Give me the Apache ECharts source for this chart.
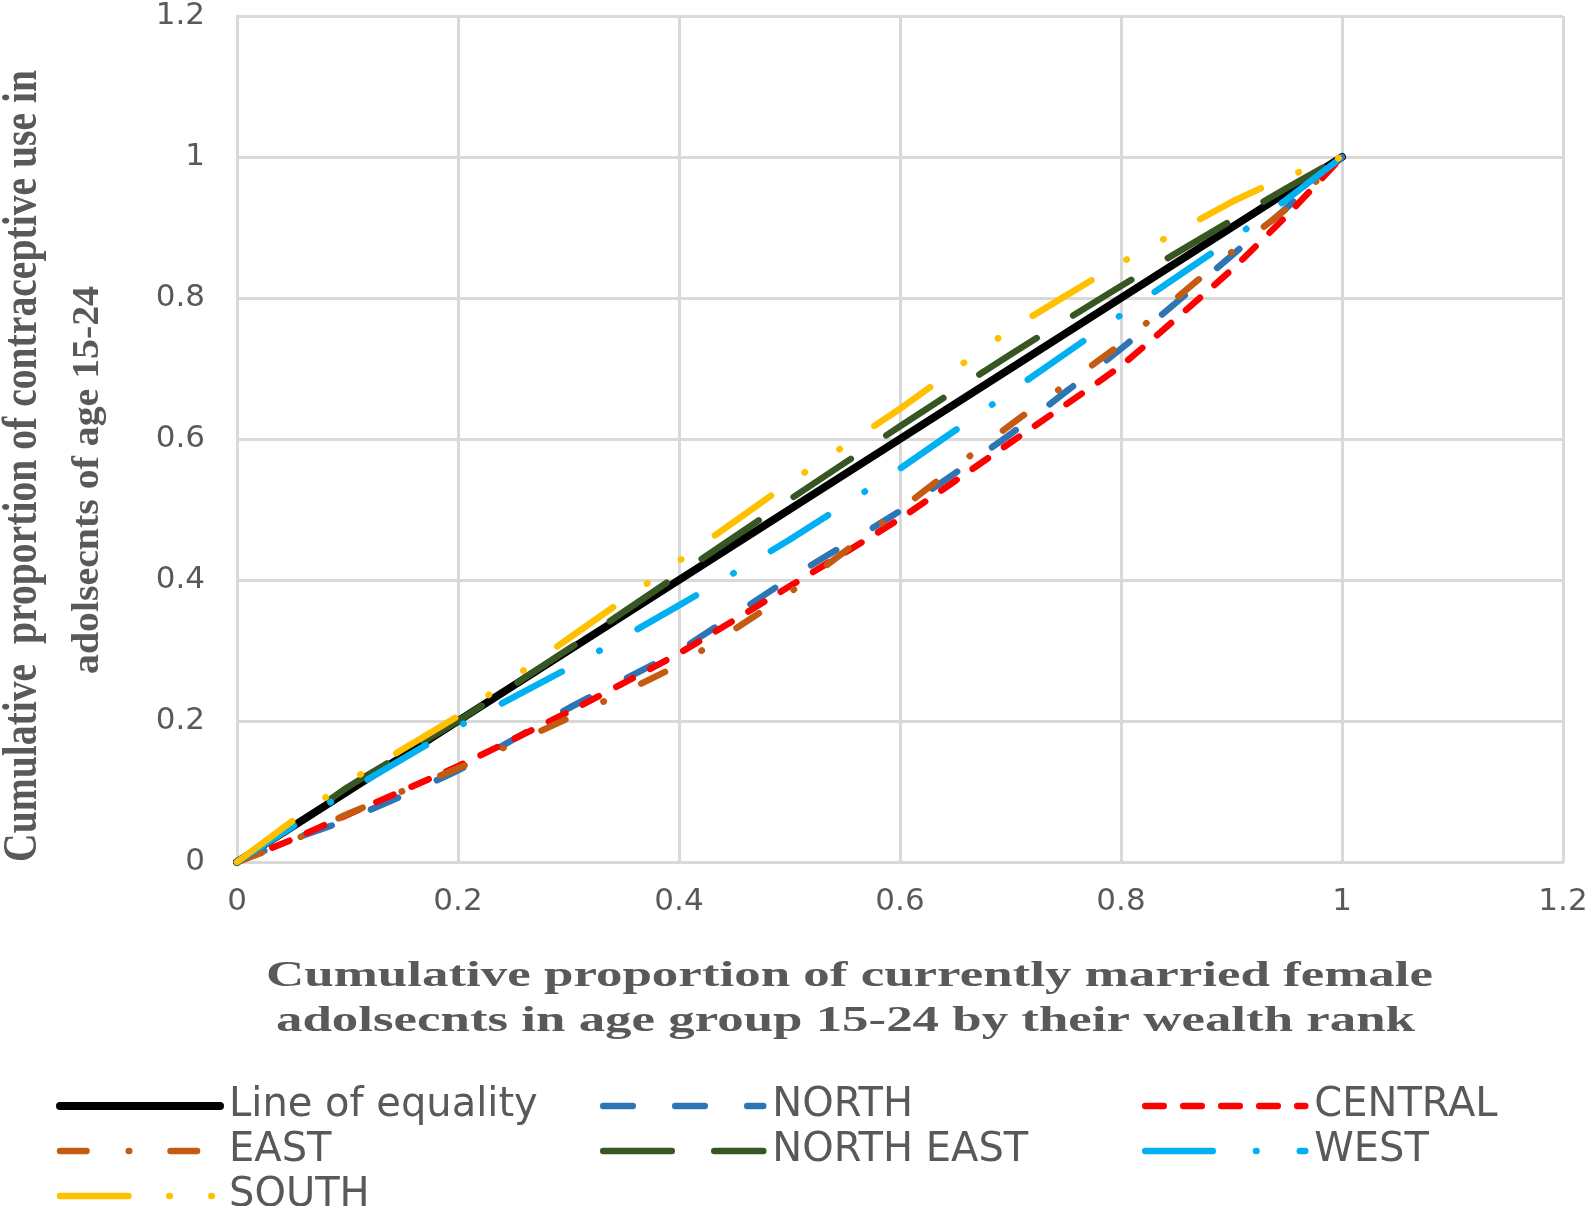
<!DOCTYPE html>
<html>
<head>
<meta charset="utf-8">
<script src="https://cdn.jsdelivr.net/npm/echarts@6/dist/echarts.min.js"></script>
<style>
html,body{margin:0;padding:0;background:#fff;}
#chart{width:1594px;height:1206px;}
</style>
</head>
<body>
<div id="chart"></div>
<script>
// ---- data ----
const xPoints = [0, 0.05, 0.1, 0.2, 0.3, 0.4, 0.5, 0.6, 0.7, 0.8, 0.9, 0.95, 1];
const equalityX = [0, 1];
const equalityY = [0, 1];
const north     = [0, 0.032, 0.060, 0.130, 0.218, 0.300, 0.402, 0.498, 0.607, 0.728, 0.860, 0.928, 1];
const central   = [0, 0.032, 0.067, 0.136, 0.213, 0.296, 0.391, 0.487, 0.595, 0.704, 0.840, 0.917, 1];
const east      = [0, 0.030, 0.068, 0.133, 0.204, 0.280, 0.382, 0.500, 0.620, 0.735, 0.865, 0.927, 1];
const northEast = [0, 0.050, 0.106, 0.200, 0.302, 0.408, 0.514, 0.618, 0.720, 0.817, 0.910, 0.956, 1];
const west      = [0, 0.050, 0.100, 0.192, 0.275, 0.364, 0.457, 0.558, 0.667, 0.776, 0.883, 0.940, 1];
const south     = [0, 0.058, 0.113, 0.207, 0.317, 0.427, 0.538, 0.643, 0.755, 0.850, 0.936, 0.972, 1];
const tickLabels = ['0', '0.2', '0.4', '0.6', '0.8', '1', '1.2'];
const seriesNames = ['Line of equality', 'NORTH', 'CENTRAL', 'EAST', 'NORTH EAST', 'WEST', 'SOUTH'];
const xTitleLines = ['Cumulative proportion of currently married female', 'adolsecnts in age group 15-24 by their wealth rank'];
const yTitleLines = ['Cumulative  proportion of contraceptive use in', 'adolsecnts of age 15-24'];

// ---- styles ----
const colors = ['#000000', '#2E75B6', '#FF0000', '#C55A11', '#375623', '#00B0F0', '#FFC000'];
const dashes = ['solid', [29.5, 42.5], [18.5, 19.5], [26.5, 42.25, 0.5, 41.25], [68.5, 42.5], [67.5, 43.25, 0.5, 43.25], [68.5, 40.85, 0.5, 41.5, 0.5, 41.25]];
const widths = [8, 6.5, 6.5, 6.5, 6.5, 6.5, 6.5];

function pairs(xs, ys) { return xs.map((x, i) => [x, ys[i]]); }
const seriesData = [
  pairs(equalityX, equalityY),
  pairs(xPoints, north),
  pairs(xPoints, central),
  pairs(xPoints, east),
  pairs(xPoints, northEast),
  pairs(xPoints, west),
  pairs(xPoints, south)
];

function measure(text, font) {
  const c = document.createElement('canvas').getContext('2d');
  c.font = font;
  return c.measureText(text).width;
}
const serifFam = '"Liberation Serif", "Times New Roman", serif';
const xTitleFont = 'bold 36px ' + serifFam;
const yTitleFont = 'bold 38px ' + serifFam;

function titleText(text, font, size, cx, cy, targetLen, rot, sy) {
  const sx = targetLen / measure(text, font);
  return {
    type: 'text', silent: true, x: cx, y: cy, rotation: rot, scaleX: sx, scaleY: sy,
    style: {
      text: text, font: font, fontSize: size, fontWeight: 'bold', fontFamily: serifFam,
      fill: '#595959', align: 'center', verticalAlign: 'middle',
      textAlign: 'center', textVerticalAlign: 'middle'
    }
  };
}

const labelFont = '"DejaVu Sans", sans-serif';
const chart = echarts.init(document.getElementById('chart'), null, {renderer: 'canvas'});

function legendCol(names, left) {
  return {
    orient: 'vertical', left: left, top: 1086, height: 220, data: names, padding: 0,
    itemWidth: 160, itemHeight: 14, itemGap: 5, selectedMode: false,
    lineStyle: {width: 'inherit', type: 'inherit', cap: 'round'},
    itemStyle: {opacity: 0, color: 'rgba(0,0,0,0)', borderWidth: 0},
    textStyle: {fontFamily: labelFont, fontSize: 40, color: '#595959', padding: [0, 0, 0, 4]}
  };
}

const option = {
  backgroundColor: '#ffffff',
  animation: false,
  grid: {left: 237, right: 31, top: 16, bottom: 344, containLabel: false},
  xAxis: {
    type: 'value', min: 0, max: 1.2, interval: 0.2,
    axisLine: {show: true, lineStyle: {color: '#D9D9D9', width: 3}},
    axisTick: {show: false},
    splitLine: {show: true, lineStyle: {color: '#D9D9D9', width: 3}},
    axisLabel: {
      margin: 24, color: '#595959', fontFamily: labelFont, fontSize: 31,
      formatter: v => tickLabels[Math.round(v / 0.2)]
    }
  },
  yAxis: {
    type: 'value', min: 0, max: 1.2, interval: 0.2,
    axisLine: {show: true, lineStyle: {color: '#D9D9D9', width: 3}},
    axisTick: {show: false},
    splitLine: {show: true, lineStyle: {color: '#D9D9D9', width: 3}},
    axisLabel: {
      margin: 32, color: '#595959', fontFamily: labelFont, fontSize: 31,
      formatter: v => tickLabels[Math.round(v / 0.2)]
    }
  },
  legend: [
    legendCol([seriesNames[0], seriesNames[3], seriesNames[6]], 56),
    legendCol([seriesNames[1], seriesNames[4]], 600),
    legendCol([seriesNames[2], seriesNames[5]], 1142)
  ],
  series: seriesNames.map((name, i) => ({
    name: name, type: 'line', data: seriesData[i], symbol: 'none', showSymbol: false,
    smooth: 0.15, clip: false, z: 2 + i,
    itemStyle: {color: colors[i]},
    lineStyle: {color: colors[i], width: widths[i], type: dashes[i], cap: 'round', join: 'round'}
  })),
  graphic: [
    titleText(xTitleLines[0], xTitleFont, 36, 849.5, 977, 1167, 0, 1),
    titleText(xTitleLines[1], xTitleFont, 36, 845.5, 1022, 1139, 0, 1),
    titleText(yTitleLines[0], yTitleFont, 38, 24, 466, 792, Math.PI / 2, 1.25),
    titleText(yTitleLines[1], yTitleFont, 38, 88, 480, 388, Math.PI / 2, 1.0)
  ]
};
chart.setOption(option);
</script>
</body>
</html>
